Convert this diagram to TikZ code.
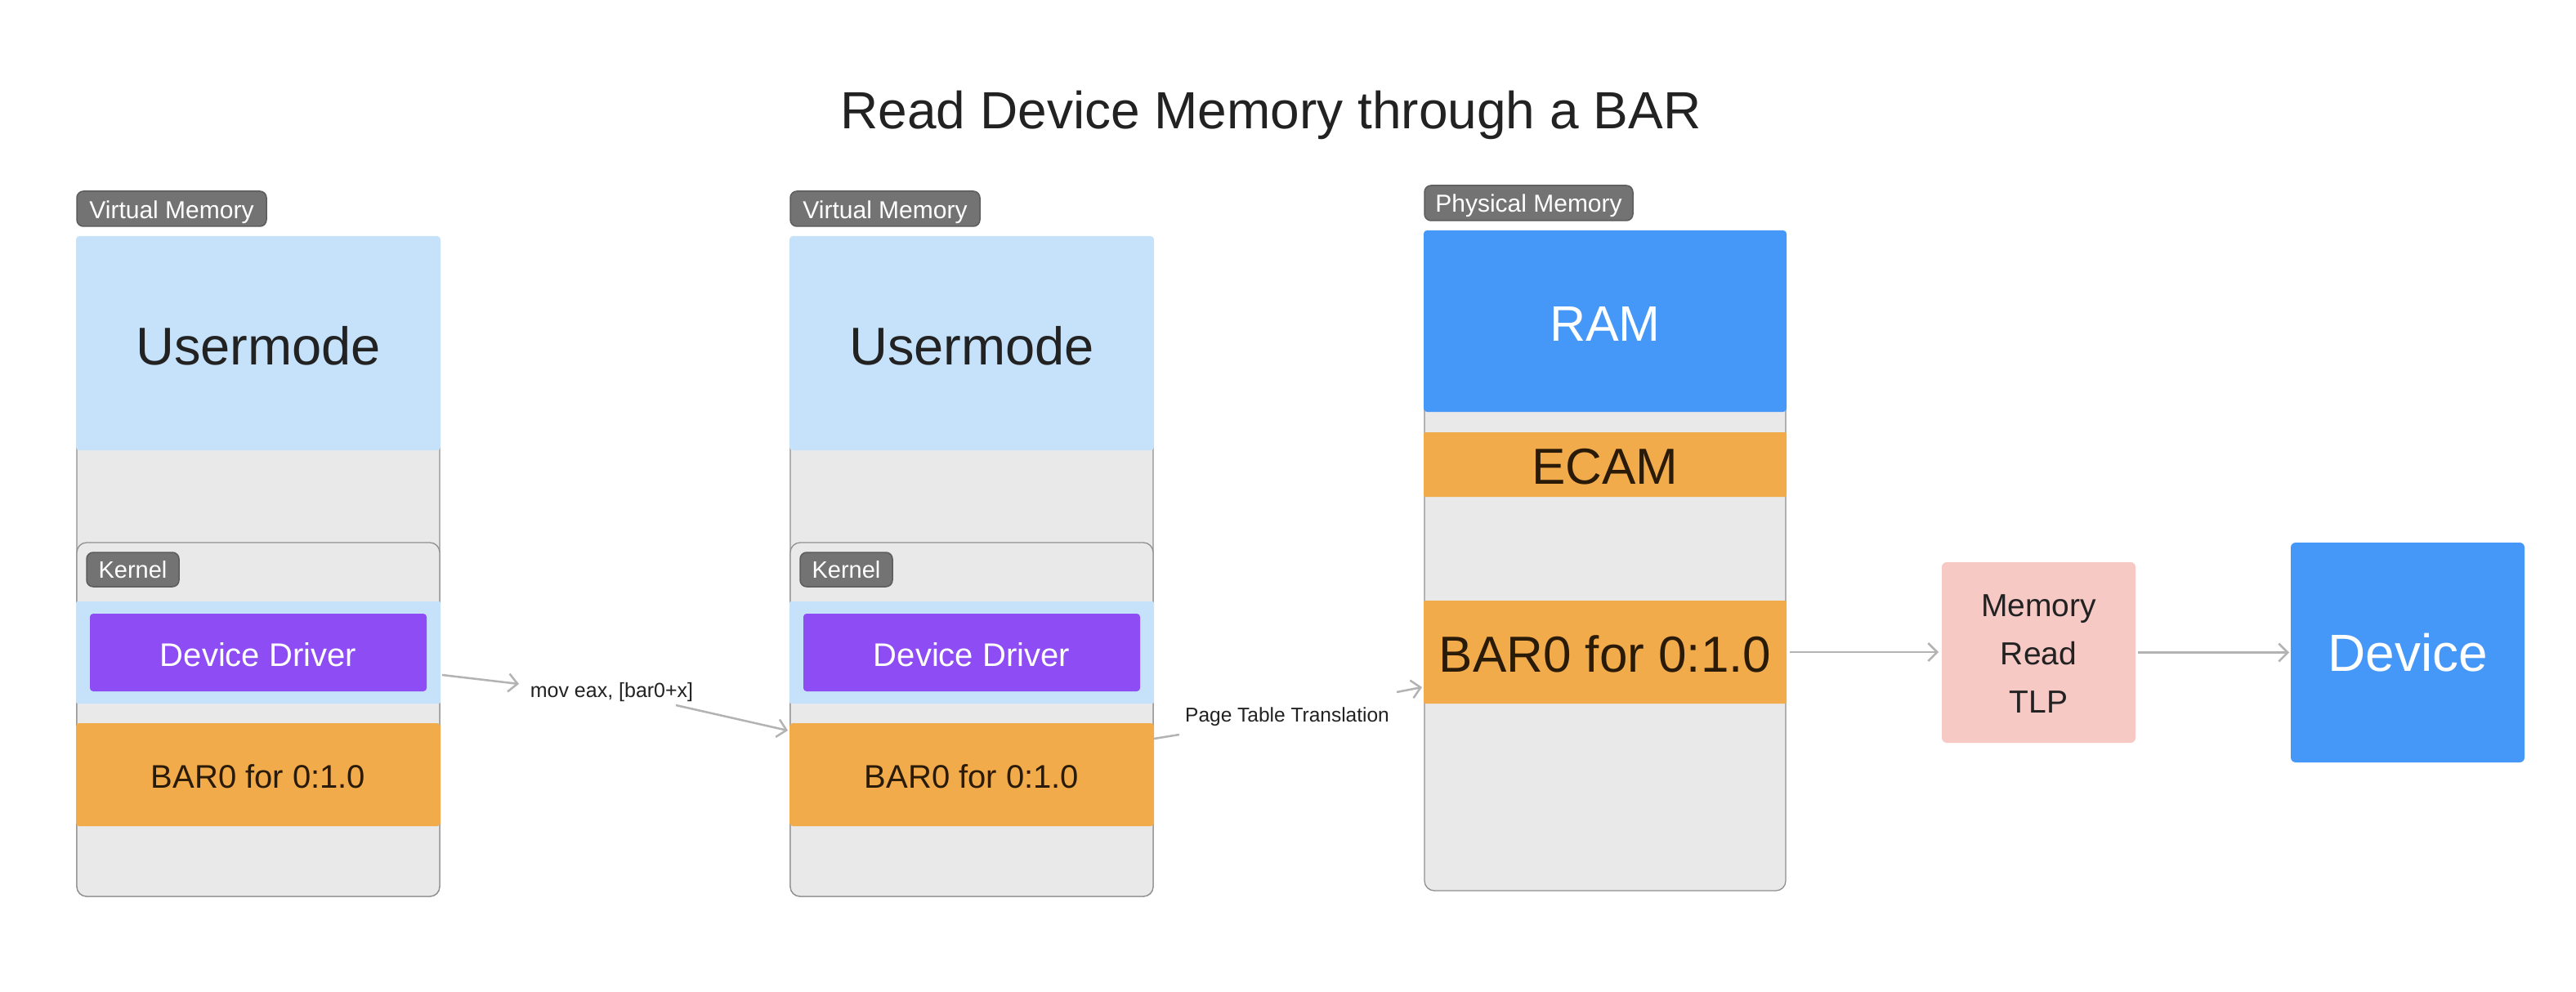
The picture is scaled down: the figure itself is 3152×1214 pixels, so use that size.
\documentclass[tikz,border=0pt]{standalone}
\usepackage{fontspec}
\setmainfont{Liberation Sans}
\usetikzlibrary{arrows.meta,calc}
\definecolor{bggray}{HTML}{E9E9E9}
\definecolor{bordergray}{HTML}{8F8F8F}
\definecolor{lightblue}{HTML}{C5E2FA}
\definecolor{purpleDD}{HTML}{8E4CF5}
\definecolor{orangeB}{HTML}{F2AB4A}
\definecolor{blueB}{HTML}{4598F7}
\definecolor{pinkB}{HTML}{F6C9C4}
\definecolor{tagfill}{HTML}{737373}
\definecolor{tagborder}{HTML}{5C5C5C}
\definecolor{arrowc}{HTML}{B3B3B3}
\definecolor{darktext}{HTML}{222222}
\definecolor{browntext}{HTML}{2A1A08}
\begin{document}
\begin{tikzpicture}[x=1pt,y=-1pt,
  boxbase/.style={inner sep=0pt, outer sep=0pt, draw=none, rounded corners=4pt},
  colbox/.style={boxbase, fill=bggray, draw=bordergray, line width=1.3pt, rounded corners=12pt, minimum width=444pt},
  tagbox/.style={inner sep=0pt, outer sep=0pt, fill=tagfill, draw=tagborder, line width=1.5pt, rounded corners=8pt},
  txt/.style={inner sep=0pt, outer sep=0pt, anchor=base},
  arr/.style={draw=arrowc, line width=2.5pt, -{Straight Barb[length=11pt,width=22pt]}},
  plainline/.style={draw=arrowc, line width=2.5pt}
]
\useasboundingbox[fill=white] (0,0) rectangle (3152,1214);

% Title
\node[txt, text=darktext, font=\fontsize{64}{76}\selectfont] (title) at (1555,158) {Read Device Memory through a BAR};

% ---------- Column 1 ----------
\node[colbox, minimum height=807pt] (outer1) at (316,693.5) {};
\node[boxbase, fill=lightblue, minimum width=446pt, minimum height=262pt] (um1) at (316,420) {};
\node[colbox, minimum height=433pt] (kern1) at (316,880.5) {};
\node[boxbase, rounded corners=2pt, fill=lightblue, minimum width=446pt, minimum height=125pt] (strip1) at (316,798.5) {};
\node[boxbase, fill=purpleDD, minimum width=412pt, minimum height=95pt] (drv1) at (316,798.5) {};
\node[boxbase, fill=orangeB, minimum width=446pt, minimum height=126pt] (bar1) at (316,948) {};
\node[tagbox, minimum width=232pt, minimum height=43pt] (vmtag1) at (210,255.5) {};
\node[tagbox, minimum width=113pt, minimum height=42pt] (ktag1) at (162.5,697) {};
\node[txt, text=white, font=\fontsize{30}{36}\selectfont] (vmtxt1) at (210,268) {Virtual Memory};
\node[txt, text=white, font=\fontsize{29}{35}\selectfont] (ktxt1) at (162.5,707) {Kernel};
\node[txt, text=darktext, font=\fontsize{65}{78}\selectfont] (umtxt1) at (316,446) {Usermode};
\node[txt, text=white, font=\fontsize{40}{48}\selectfont] (drvtxt1) at (316,815) {Device Driver};
\node[txt, text=browntext, font=\fontsize{40}{48}\selectfont] (bartxt1) at (316,964) {BAR0 for 0:1.0};

% ---------- Column 2 ----------
\node[colbox, minimum height=807pt] (outer2) at (1189,693.5) {};
\node[boxbase, fill=lightblue, minimum width=446pt, minimum height=262pt] (um2) at (1189,420) {};
\node[colbox, minimum height=433pt] (kern2) at (1189,880.5) {};
\node[boxbase, rounded corners=2pt, fill=lightblue, minimum width=446pt, minimum height=125pt] (strip2) at (1189,798.5) {};
\node[boxbase, fill=purpleDD, minimum width=412pt, minimum height=95pt] (drv2) at (1189,798.5) {};
\node[boxbase, fill=orangeB, minimum width=446pt, minimum height=126pt] (bar2) at (1189,948) {};
\node[tagbox, minimum width=232pt, minimum height=43pt] (vmtag2) at (1083,255.5) {};
\node[tagbox, minimum width=113pt, minimum height=42pt] (ktag2) at (1035.5,697) {};
\node[txt, text=white, font=\fontsize{30}{36}\selectfont] (vmtxt2) at (1083,268) {Virtual Memory};
\node[txt, text=white, font=\fontsize{29}{35}\selectfont] (ktxt2) at (1035.5,707) {Kernel};
\node[txt, text=darktext, font=\fontsize{65}{78}\selectfont] (umtxt2) at (1189,446) {Usermode};
\node[txt, text=white, font=\fontsize{40}{48}\selectfont] (drvtxt2) at (1189,815) {Device Driver};
\node[txt, text=browntext, font=\fontsize{40}{48}\selectfont] (bartxt2) at (1189,964) {BAR0 for 0:1.0};

% ---------- Column 3 (Physical) ----------
\node[colbox, minimum width=442pt, minimum height=807pt] (outer3) at (1964,686.5) {};
\node[boxbase, fill=blueB, minimum width=444pt, minimum height=222pt] (ram) at (1964,393) {};
\node[boxbase, rounded corners=2pt, fill=orangeB, minimum width=444pt, minimum height=79pt] (ecam) at (1964,568.5) {};
\node[boxbase, rounded corners=2pt, fill=orangeB, minimum width=444pt, minimum height=126pt] (bar3) at (1964,798) {};
\node[tagbox, minimum width=255pt, minimum height=43pt] (pmtag) at (1870.5,248.5) {};
\node[txt, text=white, font=\fontsize{30}{36}\selectfont] (pmtxt) at (1870.5,260) {Physical Memory};
\node[txt, text=white, font=\fontsize{61}{73}\selectfont] (ramtxt) at (1964,417) {RAM};
\node[txt, text=browntext, font=\fontsize{62}{74}\selectfont] (ecamtxt) at (1964,592) {ECAM};
\node[txt, text=browntext, font=\fontsize{62}{74}\selectfont] (bartxt3) at (1964,822) {BAR0 for 0:1.0};

% ---------- TLP and Device ----------
\node[boxbase, rounded corners=6pt, fill=pinkB, minimum width=237pt, minimum height=221pt] (tlp) at (2494.5,798.5) {};
\node[txt, text=darktext, font=\fontsize{39}{47}\selectfont] (tlp1) at (2494.5,754) {Memory};
\node[txt, text=darktext, font=\fontsize{39}{47}\selectfont] (tlp2) at (2494.5,813) {Read};
\node[txt, text=darktext, font=\fontsize{39}{47}\selectfont] (tlp3) at (2494.5,872) {TLP};
\node[boxbase, rounded corners=6pt, fill=blueB, minimum width=286pt, minimum height=269pt] (dev) at (2946,798.5) {};
\node[txt, text=white, font=\fontsize{64}{77}\selectfont] (devtxt) at (2946,821) {Device};

% ---------- Connectors ----------
\node[txt, text=darktext, font=\fontsize{25}{30}\selectfont] (movlbl) at (748.5,853) {mov eax, [bar0+x]};
\coordinate (a1s) at (541,826);
\coordinate (a1m) at (635,837);
\coordinate (a1n) at (827,863);
\coordinate (a1e) at (964,894);
\draw[arr] (a1s) -- (a1m);
\draw[arr] (a1n) -- (a1e);

\node[txt, text=darktext, font=\fontsize{24.5}{29}\selectfont] (ptlbl) at (1575,883) {Page Table Translation};
\coordinate (a2s) at (1412,904);
\coordinate (a2m) at (1443,899);
\coordinate (a2n) at (1709,847);
\coordinate (a2e) at (1740,841);
\draw[plainline] (a2s) -- (a2m);
\draw[arr] (a2n) -- (a2e);

\draw[arr] ([xshift=4pt]bar3.east) -- ([xshift=-4pt]bar3.east -| tlp.west);
\draw[arr] ([xshift=3pt]tlp.east) -- ([xshift=-2pt]dev.west);
\end{tikzpicture}
\end{document}
